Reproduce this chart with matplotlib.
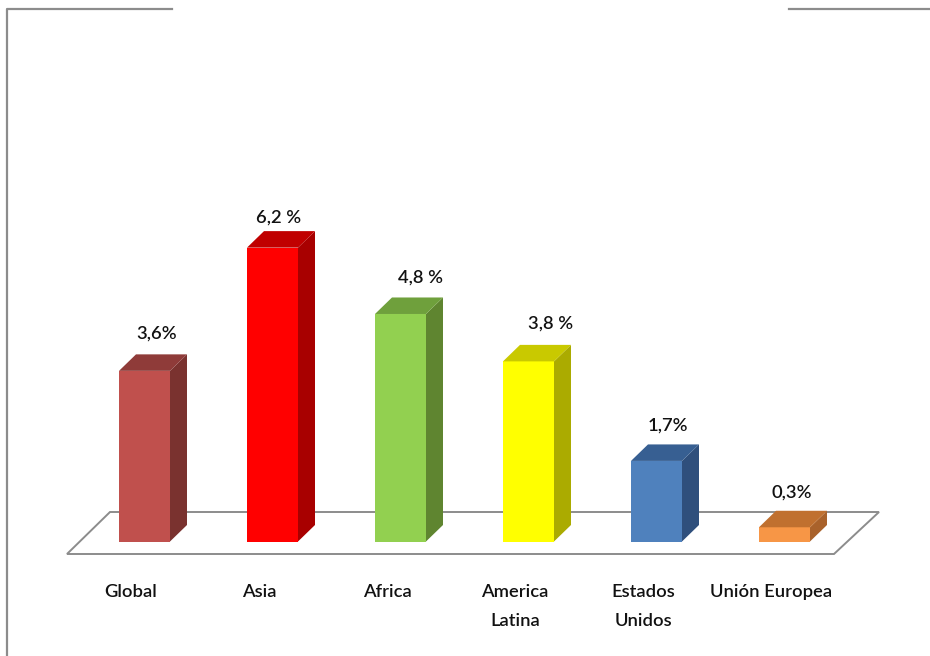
import matplotlib
matplotlib.use('Agg')
import matplotlib.pyplot as plt
from matplotlib.patches import Polygon

plt.rcParams['font.family'] = ['Lato', 'DejaVu Sans']

# Values
categories = ['Global', 'Asia', 'Africa', 'America\nLatina', 'Estados\nUnidos', 'Unión Europea']
values = [3.6, 6.2, 4.8, 3.8, 1.7, 0.3]
value_labels = ['3,6%', '6,2 %', '4,8 %', '3,8 %', '1,7%', '0,3%']

front_colors = ['#C0504D', '#FF0000', '#92D050', '#FFFF00', '#4F81BD', '#F79646']
side_colors = ['#7A322F', '#A80000', '#5F8530', '#ABAB00', '#2F4F7C', '#A9622B']
top_colors = ['#8F3B39', '#C00000', '#6FA03C', '#C9C900', '#375F92', '#C0702F']

# Label nudges from the bar centre, in pixels (the original was placed by hand)
value_dx = [12, 6, 20, 22, 11, 7]
value_dy = [37, 30, 36, 38, 35, 35]

W, H = 930, 656
BASE_Y = 541.5      # pixel row of the bar bottoms
FIRST_X = 144.5     # pixel column of the first bar centre
STEP = 128.0        # pixels between bars
PX_PER_UNIT = 47.4  # pixels per percentage point
BAR_W = 51 / STEP
DX = 17 / STEP      # 3d depth
DY = 16.5 / PX_PER_UNIT


def px(x, y):
    # pixel position in the reference -> data coordinates
    return (x - FIRST_X) / STEP, (BASE_Y - y) / PX_PER_UNIT


fig = plt.figure(figsize=(W / 100, H / 100), dpi=100, facecolor='white')
ax = fig.add_axes([0, 0, 1, 1])
ax.set_xlim(-FIRST_X / STEP, (W - FIRST_X) / STEP)
ax.set_ylim((BASE_Y - H) / PX_PER_UNIT, BASE_Y / PX_PER_UNIT)
ax.axis('off')

# floor of the 3d chart
floor = [px(67, 554), px(834, 554), px(879, 512), px(110, 512)]
ax.add_patch(Polygon(floor, closed=True, facecolor='white', edgecolor='#8C8C8C', linewidth=1.4, zorder=1))

# bars
for i, v in enumerate(values):
    l = i - BAR_W / 2
    r = i + BAR_W / 2
    ax.bar(i, v, width=BAR_W, color=front_colors[i], linewidth=0, zorder=3)
    ax.add_patch(Polygon([(r, 0), (r + DX, DY), (r + DX, v + DY), (r, v)],
                         facecolor=side_colors[i], linewidth=0, zorder=3))
    ax.add_patch(Polygon([(l, v), (l + DX, v + DY), (r + DX, v + DY), (r, v)],
                         facecolor=top_colors[i], linewidth=0, zorder=3))
    ax.annotate(value_labels[i], (i, v), xytext=(value_dx[i] * 0.72, value_dy[i] * 0.72),
                textcoords='offset points', ha='center', va='center',
                fontsize=13.2, weight='semibold', color='#111111', zorder=4)
    ax.annotate(categories[i], (i, 0), xytext=(-13.5 * 0.72, -42.5 * 0.72),
                textcoords='offset points', ha='center', va='top',
                fontsize=13.2, weight='semibold', color='#111111', linespacing=2.0, zorder=4)

# remains of the slide frame
frame = dict(color='#8C8C8C', linewidth=1.6, zorder=2, clip_on=False)
ax.plot(*zip(px(7, 656), px(7, 9), px(172, 9)), **frame)
ax.plot(*zip(px(789, 9), px(930, 9)), **frame)

fig.savefig('out.png', dpi=100, facecolor='white')
